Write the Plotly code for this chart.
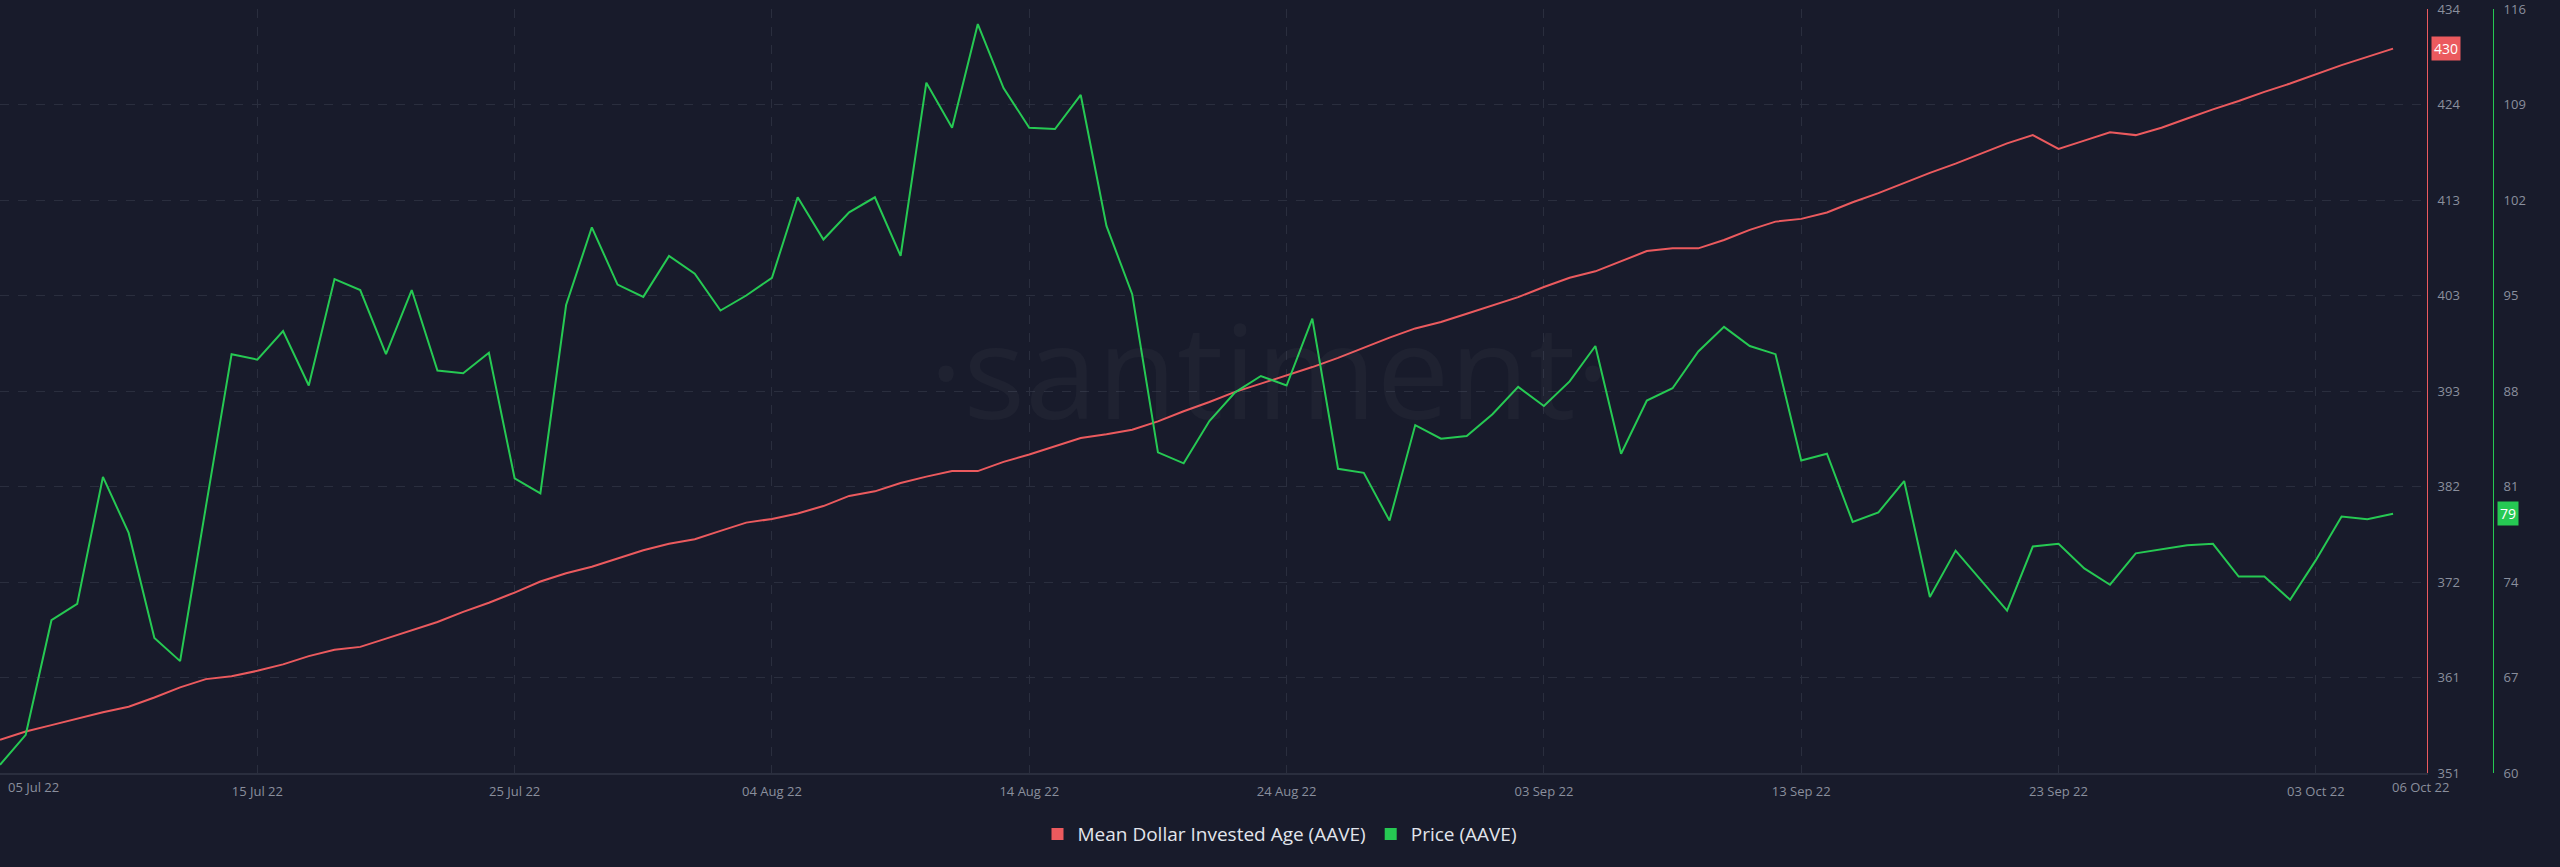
import plotly.graph_objects as go
import pandas as pd

# ---- data -------------------------------------------------------------
dates = pd.date_range("2022-07-05", "2022-10-06", freq="D").strftime("%Y-%m-%d").tolist()

mdia = [
    354.6, 355.5, 356.2, 356.9, 357.6, 358.2, 359.2, 360.3, 361.2, 361.5,
    362.1, 362.8, 363.7, 364.4, 364.7, 365.6, 366.5, 367.4, 368.5, 369.5,
    370.6, 371.8, 372.7, 373.4, 374.3, 375.2, 375.9, 376.4, 377.3, 378.2,
    378.6, 379.2, 380.0, 381.1, 381.6, 382.5, 383.2, 383.8, 383.8, 384.8,
    385.6, 386.5, 387.4, 387.8, 388.3, 389.2, 390.3, 391.3, 392.4, 393.3,
    394.2, 395.1, 396.1, 397.2, 398.3, 399.3, 400.0, 400.9, 401.8, 402.7,
    403.8, 404.8, 405.5, 406.6, 407.7, 408.0, 408.0, 408.9, 410.0, 410.9,
    411.2, 411.9, 413.0, 414.0, 415.1, 416.2, 417.2, 418.3, 419.4, 420.3,
    418.8, 419.7, 420.6, 420.3, 421.1, 422.1, 423.1, 424.0, 425.0, 425.9,
    426.9, 427.9, 428.8, 429.7,
]

price = [
    60.6, 62.8, 71.2, 72.4, 81.7, 77.6, 69.9, 68.2, 79.5, 90.7,
    90.3, 92.4, 88.4, 96.2, 95.4, 90.7, 95.4, 89.5, 89.3, 90.8,
    81.6, 80.5, 94.3, 100.0, 95.8, 94.9, 97.9, 96.6, 93.9, 95.0,
    96.3, 102.2, 99.1, 101.1, 102.2, 97.9, 110.6, 107.3, 114.9, 110.2,
    107.3, 107.2, 109.7, 100.1, 95.1, 83.5, 82.7, 85.8, 87.9, 89.1,
    88.4, 93.3, 82.3, 82.0, 78.5, 85.5, 84.5, 84.7, 86.3, 88.3,
    86.9, 88.7, 91.3, 83.4, 87.3, 88.2, 90.9, 92.7, 91.3, 90.7,
    82.9, 83.4, 78.4, 79.1, 81.4, 72.9, 76.3, 74.1, 71.9, 76.6,
    76.8, 75.0, 73.8, 76.1, 76.4, 76.7, 76.8, 74.4, 74.4, 72.7,
    75.6, 78.8, 78.6, 79.0,
]

x_tick_dates = ["2022-07-15", "2022-07-25", "2022-08-04", "2022-08-14", "2022-08-24",
                "2022-09-03", "2022-09-13", "2022-09-23", "2022-10-03"]
x_first_label = "05 Jul 22"
x_last_label = "06 Oct 22"

mdia_tick_vals = [351, 361.375, 371.75, 382.125, 392.5, 402.875, 413.25, 423.625, 434]
mdia_tick_text = ["351", "361", "372", "382", "393", "403", "413", "424", "434"]
price_tick_vals = [60, 67, 74, 81, 88, 95, 102, 109, 116]

mdia_name = "Mean Dollar Invested Age (AAVE)"
price_name = "Price (AAVE)"
mdia_last_label = "430"
price_last_label = "79"

# ---- styles -----------------------------------------------------------
BG = "#181b2b"
GRID = "#2a2e3e"
TICK = "#8a8f9d"
RED = "#eb5a5e"
GREEN = "#26c953"
FONT = "Open Sans"

W, H = 2560, 867
plot_right_px = 2427
price_axis_px = 2493

fig = go.Figure()

fig.add_trace(go.Scatter(x=dates, y=mdia, mode="lines", name=mdia_name,
                         line=dict(color=RED, width=2), yaxis="y", showlegend=False,
                         hoverinfo="skip"))
fig.add_trace(go.Scatter(x=dates, y=price, mode="lines", name=price_name,
                         line=dict(color=GREEN, width=2), yaxis="y2", showlegend=False,
                         hoverinfo="skip"))
# legend swatches (squares)
fig.add_trace(go.Scatter(x=[None], y=[None], mode="markers", name=mdia_name,
                         marker=dict(symbol="square", size=12, color=RED)))
fig.add_trace(go.Scatter(x=[None], y=[None], mode="markers", name=price_name,
                         marker=dict(symbol="square", size=12, color=GREEN), yaxis="y2"))

fig.update_layout(
    width=W, height=H,
    paper_bgcolor=BG, plot_bgcolor=BG,
    margin=dict(l=0, r=0, t=9, b=94),
    font=dict(family=FONT, color=TICK, size=13),
    showlegend=True,
    legend=dict(orientation="h", x=0.5, xanchor="center", y=-0.08, yanchor="middle",
                font=dict(size=19, color="#e2e5ec", family=FONT),
                bgcolor="rgba(0,0,0,0)"),
    xaxis=dict(
        type="date",
        domain=[0, plot_right_px / W],
        range=["2022-07-05", "2022-10-07 07:40"],
        tickvals=x_tick_dates,
        tickformat="%d %b %y",
        showgrid=True, gridcolor=GRID, griddash="dash", gridwidth=1,
        showline=True, linecolor=GRID, linewidth=2,
        zeroline=False, ticks="",
        tickfont=dict(size=13, color=TICK),
        ticklabelstandoff=5,
    ),
    yaxis=dict(
        side="right", anchor="x",
        range=[351, 434],
        tickvals=mdia_tick_vals, ticktext=mdia_tick_text,
        showgrid=True, gridcolor=GRID, griddash="dash", gridwidth=1,
        showline=True, linecolor=RED, linewidth=1,
        zeroline=False, ticks="",
        tickfont=dict(size=13, color=TICK),
        ticklabelstandoff=7,
        ticklabeloverflow="allow",
    ),
    yaxis2=dict(
        overlaying="y", side="right", anchor="free",
        position=price_axis_px / W,
        range=[60, 116],
        tickvals=price_tick_vals,
        showgrid=False,
        showline=True, linecolor=GREEN, linewidth=1,
        zeroline=False, ticks="",
        tickfont=dict(size=13, color=TICK),
        ticklabelstandoff=7,
        ticklabeloverflow="allow",
    ),
)

annotations = [
    # watermark
    dict(text="·santiment·", xref="paper", yref="paper", x=1269 / W, y=0.53,
         showarrow=False, font=dict(size=130, color="rgba(255,255,255,0.03)", family=FONT)),
    # edge date labels
    dict(text=x_first_label, xref="paper", yref="paper", x=0, y=0, xanchor="left",
         yanchor="middle", xshift=6, yshift=-14, showarrow=False,
         font=dict(size=13, color=TICK, family=FONT)),
    dict(text=x_last_label, xref="paper", yref="paper", x=2420 / W, y=0, xanchor="center",
         yanchor="middle", yshift=-14, showarrow=False,
         font=dict(size=13, color=TICK, family=FONT)),
    # last-value badges
    dict(text=mdia_last_label, xref="paper", yref="y", x=plot_right_px / W, y=mdia[-1],
         xanchor="left", yanchor="middle", xshift=4, showarrow=False,
         bgcolor=RED, borderpad=2, font=dict(size=14, color="#ffffff", family=FONT)),
    dict(text=price_last_label, xref="paper", yref="y2", x=price_axis_px / W, y=price[-1],
         xanchor="left", yanchor="middle", xshift=4, showarrow=False,
         bgcolor=GREEN, borderpad=2, font=dict(size=14, color="#ffffff", family=FONT)),
]
fig.update_layout(annotations=annotations)

fig.write_html("out.html",
               config={"displayModeBar": False},
               post_script="document.body.style.margin='0';document.body.style.background='" + BG + "';")
